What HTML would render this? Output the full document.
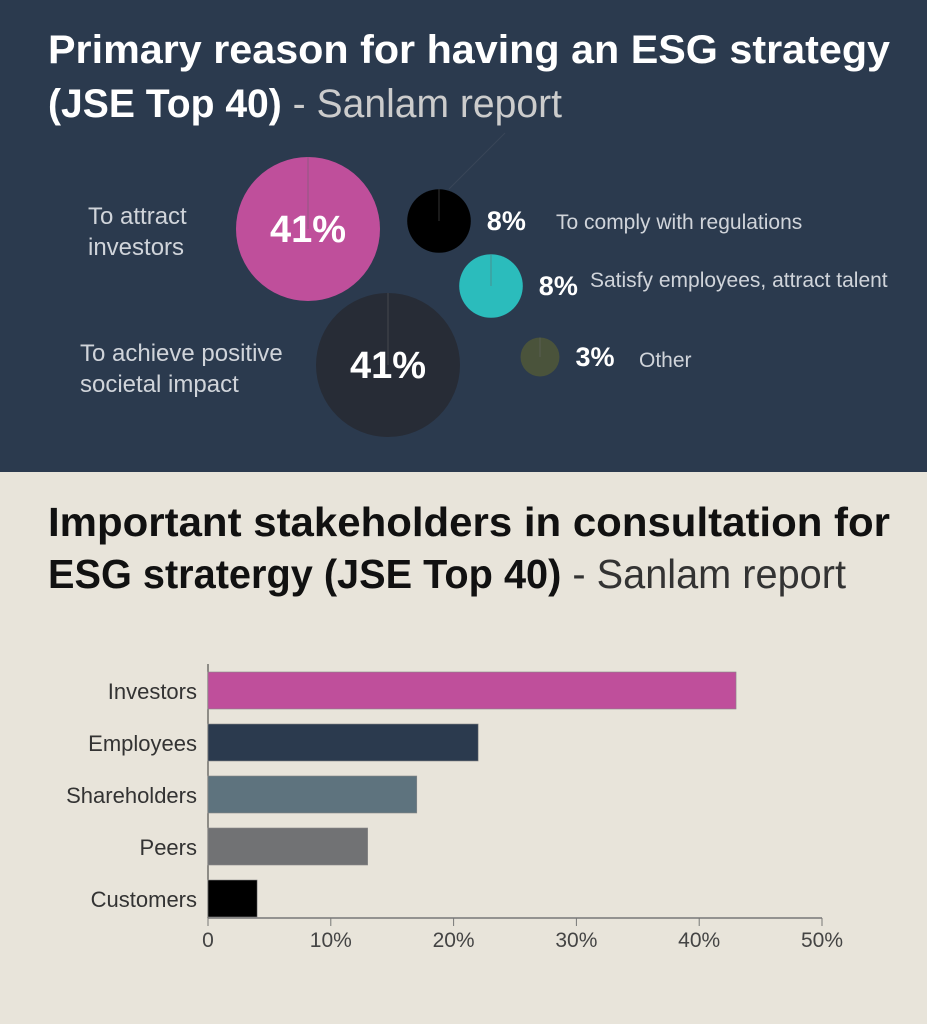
<!DOCTYPE html>
<html><head><meta charset="utf-8"><style>
body{margin:0;width:927px;height:1024px;overflow:hidden;font-family:"Liberation Sans",sans-serif}
</style></head><body>
<svg width="927" height="1024" xmlns="http://www.w3.org/2000/svg" font-family="Liberation Sans, sans-serif">
<rect x="0" y="0" width="927" height="472" fill="#2b3a4e"/>
<rect x="0" y="472" width="927" height="552" fill="#e8e4da"/>
<text x="48" y="63" font-size="40" font-weight="bold" fill="#fff" textLength="842" lengthAdjust="spacingAndGlyphs">Primary reason for having an ESG strategy</text>
<text x="48" y="117" font-size="40" fill="#fff" textLength="514" lengthAdjust="spacingAndGlyphs"><tspan font-weight="bold">(JSE Top 40)</tspan><tspan fill="#ccc" font-weight="normal"> - Sanlam report</tspan></text>
<g id="bubbles"></g>
<text x="48" y="536" font-size="41" font-weight="bold" fill="#111" textLength="842" lengthAdjust="spacingAndGlyphs">Important stakeholders in consultation for</text>
<text x="48" y="588" font-size="41" fill="#111" textLength="798" lengthAdjust="spacingAndGlyphs"><tspan font-weight="bold">ESG stratergy (JSE Top 40)</tspan><tspan fill="#333" font-weight="normal"> - Sanlam report</tspan></text>
<g id="bars"></g>
</svg>
<script>
const reasons=["To attract investors","To achieve positive societal impact","To comply with regulations","Satisfy employees, attract talent","Other"];
const reasonValues=[41,41,8,8,3];
const categories=["Investors","Employees","Shareholders","Peers","Customers"];
const values=[43,22,17,13,4];
const ticks=[0,10,20,30,40,50];
const tickLabels=["0","10%","20%","30%","40%","50%"];

const NS="http://www.w3.org/2000/svg";
function mk(t,a,p){const e=document.createElementNS(NS,t);for(const k in a)e.setAttribute(k,a[k]);p.appendChild(e);return e;}

// bubbles
const bg=document.getElementById('bubbles');
const centers=[[308,229],[388,365],[439,221],[491,286],[540,357]];
const colors=["#bf4f9b","#272c36","#000000","#2bbcbc","#4a533b"];
const rad=v=>72*Math.sqrt(v/41);
mk('line',{x1:449,y1:189,x2:505,y2:133,stroke:'#3a4558','stroke-width':1},bg);
reasonValues.forEach((v,i)=>{
  const [cx,cy]=centers[i];const r=rad(v);
  const c=mk('circle',{cx,cy,r,fill:colors[i]},bg);
  
  
  mk('line',{x1:cx,y1:cy-r,x2:cx,y2:cy,stroke:'#666','stroke-width':1,opacity:0.5},bg);
  let lbl;
  if(i<2){lbl=mk('text',{x:cx,y:cy+13,'font-size':38,'font-weight':'bold',fill:'#fff','text-anchor':'middle'},bg);}
  else{lbl=mk('text',{x:cx+r+16,y:cy+9,'font-size':27,'font-weight':'bold',fill:'#fff'},bg);}
  lbl.textContent=v+'%';
  
  
});
const labelPos=[[88,224,["To attract","investors"]],[80,361,["To achieve positive","societal impact"]],[556,229,["To comply with regulations"]],[590,287,["Satisfy employees, attract talent"]],[639,367,["Other"]]];
labelPos.forEach((l,i)=>{
  l[2].forEach((s,j)=>{
    const t=mk('text',{x:l[0],y:l[1]+j*31,'font-size':i<2?24:21,fill:'#d0d4da'},bg);
    t.textContent=s;
    
    
  });
});

// bars
const bb=document.getElementById('bars');
const x0=208,x1=822,xs=v=>x0+(x1-x0)*v/50;
const barColors=["#bf4f9b","#2b3a4e","#5e737e","#717274","#000000"];
mk('line',{x1:x0,y1:664,x2:x0,y2:918,stroke:'#333','stroke-width':1},bb);
mk('line',{x1:x0,y1:918,x2:x1,y2:918,stroke:'#777','stroke-width':1.5},bb);
categories.forEach((c,i)=>{
  const y=672+i*52;
  const r=mk('rect',{x:x0,y,width:xs(values[i])-x0,height:37,fill:barColors[i],stroke:'#888','stroke-width':0.6},bb);
  
  
  const t=mk('text',{x:197,y:y+27,'font-size':22,fill:'#333','text-anchor':'end'},bb);
  t.textContent=c;
  
  
});
ticks.forEach((v,i)=>{
  const x=xs(v);
  mk('line',{x1:x,y1:918,x2:x,y2:926,stroke:'#777','stroke-width':1},bb);
  const t=mk('text',{x,y:947,'font-size':21,fill:'#444','text-anchor':'middle'},bb);
  t.textContent=tickLabels[i];
  
  
});
</script>
</body></html>
